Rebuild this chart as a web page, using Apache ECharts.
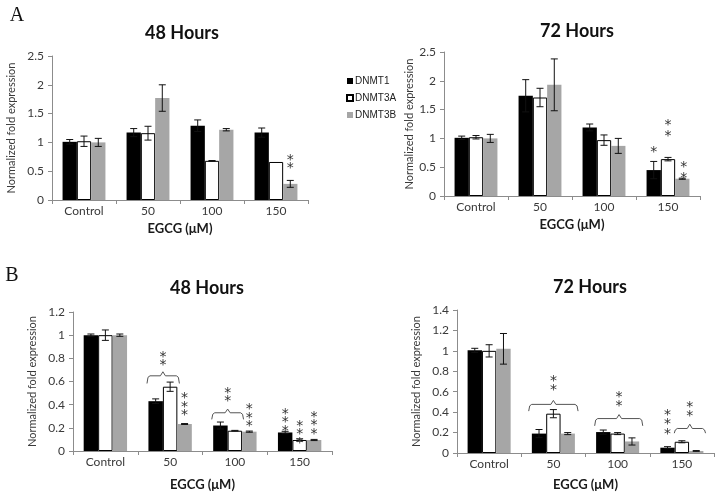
<!DOCTYPE html>
<html><head><meta charset="utf-8">
<script src="https://cdn.jsdelivr.net/npm/echarts@6/dist/echarts.min.js"></script>
<style>html,body{margin:0;padding:0;background:#fff}#c{width:724px;height:492px}</style>
</head><body><div id="c"></div>
<script>
// ---------- data ----------
const categories = ['Control', '50', '100', '150'];
const seriesNames = ['DNMT1', 'DNMT3A', 'DNMT3B'];
const xAxisName = 'EGCG (μM)';
const yAxisName = 'Normalized fold expression';

// Panel A, 48 hours
const a48_dnmt1 = [1.01, 1.17, 1.29, 1.17];
const a48_dnmt1_err = [0.04, 0.07, 0.10, 0.08];
const a48_dnmt3a = [1.02, 1.16, 0.68, 0.66];
const a48_dnmt3a_err = [0.09, 0.12, 0.005, 0.0];
const a48_dnmt3b = [1.00, 1.77, 1.22, 0.28];
const a48_dnmt3b_err = [0.07, 0.23, 0.02, 0.06];
// Panel A, 72 hours
const a72_dnmt1 = [1.01, 1.74, 1.19, 0.45];
const a72_dnmt1_err = [0.03, 0.28, 0.06, 0.15];
const a72_dnmt3a = [1.02, 1.71, 0.97, 0.64];
const a72_dnmt3a_err = [0.03, 0.16, 0.09, 0.03];
const a72_dnmt3b = [1.00, 1.93, 0.87, 0.30];
const a72_dnmt3b_err = [0.07, 0.45, 0.13, 0.01];
// Panel B, 48 hours
const b48_dnmt1 = [1.00, 0.43, 0.22, 0.16];
const b48_dnmt1_err = [0.01, 0.02, 0.03, 0.01];
const b48_dnmt3a = [1.00, 0.555, 0.175, 0.095];
const b48_dnmt3a_err = [0.045, 0.04, 0.003, 0.01];
const b48_dnmt3b = [1.00, 0.233, 0.167, 0.095];
const b48_dnmt3b_err = [0.01, 0.004, 0.005, 0.005];
// Panel B, 72 hours
const b72_dnmt1 = [1.005, 0.19, 0.205, 0.052];
const b72_dnmt1_err = [0.02, 0.04, 0.02, 0.01];
const b72_dnmt3a = [1.00, 0.385, 0.19, 0.11];
const b72_dnmt3a_err = [0.06, 0.04, 0.01, 0.01];
const b72_dnmt3b = [1.02, 0.19, 0.113, 0.02];
const b72_dnmt3b_err = [0.15, 0.01, 0.035, 0.004];

// significance stars: [category index, offset in bar widths from group centre, value, count]
const a48Stars = [[3, 1, 0.67, 2]];
const a72Stars = [[3, -1, 0.81, 1], [3, 0, 1.19, 2], [3, 1.1, 0.45, 2]];
const b48Stars = [[1, -0.5, 0.80, 2], [1, 1, 0.405, 3], [2, -0.5, 0.489, 2], [2, 1, 0.31, 3],
                  [3, -1, 0.273, 3], [3, 0, 0.167, 3], [3, 1, 0.244, 3]];
const b72Stars = [[1, 0, 0.687, 2], [2, 0.1, 0.531, 2], [3, -1, 0.305, 3], [3, 0.55, 0.433, 2]];
// brackets: [category, left offset, right offset, peak offset, top value, leg value, peak value]
const b48Brackets = [[1, -1.6, 0.64, -0.5, 0.649, 0.583, 0.684], [2, -1.6, 0.6, -0.5, 0.33, 0.273, 0.362]];
const b72Brackets = [[1, -1.72, 1.72, 0, 0.476, 0.41, 0.515], [2, -1.6, 1.75, 0.1, 0.337, 0.266, 0.376],
                     [3, -0.53, 1.65, 0.55, 0.24, 0.194, 0.282]];

// ---------- layout ----------
const colors = ['#000000', '#ffffff', '#a6a6a6'];
const FONT = 'Lato, "Open Sans", sans-serif';
const panels = [
  { grid: { left: 52, top: 56, width: 256, height: 144 }, max: 2.5, interval: 0.5,
    vals: [a48_dnmt1, a48_dnmt3a, a48_dnmt3b], errs: [a48_dnmt1_err, a48_dnmt3a_err, a48_dnmt3b_err],
    stars: a48Stars, brackets: [], starLH: 8, xNameGap: 22, yNameGap: 35, title: '48 Hours', tx: 182, ty: 33 },
  { grid: { left: 444, top: 52, width: 256, height: 144 }, max: 2.5, interval: 0.5,
    vals: [a72_dnmt1, a72_dnmt3a, a72_dnmt3b], errs: [a72_dnmt1_err, a72_dnmt3a_err, a72_dnmt3b_err],
    stars: a72Stars, brackets: [], starLH: 11, xNameGap: 22, yNameGap: 27, title: '72 Hours', tx: 577, ty: 31 },
  { grid: { left: 73, top: 312, width: 259, height: 139 }, max: 1.2, interval: 0.2,
    vals: [b48_dnmt1, b48_dnmt3a, b48_dnmt3b], errs: [b48_dnmt1_err, b48_dnmt3a_err, b48_dnmt3b_err],
    stars: b48Stars, brackets: b48Brackets, starLH: 8.5, xNameGap: 27, yNameGap: 35, title: '48 Hours', tx: 207, ty: 288 },
  { grid: { left: 457, top: 310, width: 257, height: 144 }, max: 1.4, interval: 0.2,
    vals: [b72_dnmt1, b72_dnmt3a, b72_dnmt3b], errs: [b72_dnmt1_err, b72_dnmt3a_err, b72_dnmt3b_err],
    stars: b72Stars, brackets: b72Brackets, starLH: 9.5, xNameGap: 25, yNameGap: 35, title: '72 Hours', tx: 590, ty: 287 }
];

const GROUP = 0.67; // fraction of the band used by the bar group (barCategoryGap 33%)
function barW(api) { return api.size([1, 0])[0] * GROUP / 3; }

function errRender(params, api) {
  const cat = api.value(0), bi = api.value(1), v = api.value(2), e = api.value(3);
  const bw = barW(api);
  const cx = api.coord([cat, 0])[0] + (bi - 1) * bw;
  const y1 = api.coord([cat, v + e])[1], y2 = api.coord([cat, v - e])[1];
  const cap = 3.5, st = { stroke: '#111', lineWidth: 1 };
  if (e <= 0) return { type: 'group', children: [] };
  return { type: 'group', children: [
    { type: 'line', shape: { x1: cx, y1: y1, x2: cx, y2: y2 }, style: st },
    { type: 'line', shape: { x1: cx - cap, y1: y1, x2: cx + cap, y2: y1 }, style: st },
    { type: 'line', shape: { x1: cx - cap, y1: y2, x2: cx + cap, y2: y2 }, style: st }
  ]};
}
function starRenderFactory(lh) {
  return function (params, api) {
    const cat = api.value(0), off = api.value(1), v = api.value(2), n = api.value(3);
    const bw = barW(api);
    const cx = api.coord([cat, 0])[0] + off * bw;
    const cy = api.coord([cat, v])[1];
    const txt = Array(n).fill('*').join('\n');
    return { type: 'text', x: cx, y: cy + 3, style: { text: txt, fill: '#333', font: '14px "DejaVu Sans"',
      align: 'center', verticalAlign: 'middle', textAlign: 'center', textVerticalAlign: 'middle', lineHeight: lh } };
  };
}
function bracketRender(params, api) {
  const cat = api.value(0), l = api.value(1), r = api.value(2), p = api.value(3);
  const top = api.value(4), leg = api.value(5), peak = api.value(6);
  const bw = barW(api);
  const c0 = api.coord([cat, 0])[0];
  const xl = c0 + l * bw, xr = c0 + r * bw, xp = c0 + p * bw;
  const yt = api.coord([cat, top])[1], yl = api.coord([cat, leg])[1], yp = api.coord([cat, peak])[1];
  return { type: 'polyline', shape: { points: [[xl, yl], [xl + 1, yt + 1.5], [xl + 3, yt], [xp - 2.5, yt], [xp, yp],
      [xp + 2.5, yt], [xr - 3, yt], [xr - 1, yt + 1.5], [xr, yl]] },
    style: { stroke: '#555', lineWidth: 1, fill: null } };
}

const grids = [], xAxes = [], yAxes = [], series = [], graphics = [];
const axisColor = '#8c8c8c', labelColor = '#3a3a3a';
panels.forEach((p, i) => {
  grids.push(p.grid);
  xAxes.push({ type: 'category', gridIndex: i, data: categories, boundaryGap: true,
    name: xAxisName, nameLocation: 'middle', nameGap: p.xNameGap,
    nameTextStyle: { fontFamily: FONT, fontWeight: 'bold', fontSize: 13, color: '#1a1a1a' },
    axisLine: { show: true, lineStyle: { color: axisColor, width: 1 } },
    axisTick: { show: true, length: 4, lineStyle: { color: axisColor } },
    axisLabel: { fontFamily: FONT, fontSize: 12, color: labelColor, margin: 5 } });
  yAxes.push({ type: 'value', gridIndex: i, min: 0, max: p.max, interval: p.interval,
    name: yAxisName, nameLocation: 'middle', nameGap: p.yNameGap, nameRotate: 90,
    nameTextStyle: { fontFamily: FONT, fontSize: 11, color: labelColor },
    axisLine: { show: true, lineStyle: { color: axisColor, width: 1 } },
    axisTick: { show: true, length: 4, lineStyle: { color: axisColor } },
    splitLine: { show: false },
    axisLabel: { fontFamily: FONT, fontSize: 12, color: labelColor, margin: 8 } });
  seriesNames.forEach((nm, s) => {
    series.push({ type: 'bar', name: nm, xAxisIndex: i, yAxisIndex: i, data: p.vals[s],
      barGap: '0%', barCategoryGap: '33%', animation: false,
      itemStyle: { color: colors[s], borderColor: s === 1 ? '#000' : colors[s], borderWidth: s === 1 ? 1 : 0 } });
  });
  const errData = [];
  p.vals.forEach((arr, s) => arr.forEach((v, c) => errData.push([c, s, v, p.errs[s][c]])));
  series.push({ type: 'custom', xAxisIndex: i, yAxisIndex: i, renderItem: errRender, data: errData,
    encode: { x: 0, y: 2 }, z: 5, animation: false, silent: true });
  series.push({ type: 'custom', xAxisIndex: i, yAxisIndex: i, renderItem: starRenderFactory(p.starLH), data: p.stars,
    encode: { x: 0, y: 2 }, z: 6, animation: false, silent: true });
  if (p.brackets.length) series.push({ type: 'custom', xAxisIndex: i, yAxisIndex: i, renderItem: bracketRender,
    data: p.brackets, encode: { x: 0, y: 4 }, z: 6, animation: false, silent: true });
  graphics.push({ type: 'text', x: p.tx, y: p.ty, style: { text: p.title, font: 'bold 18px ' + FONT, fill: '#111',
    align: 'center', verticalAlign: 'middle', textAlign: 'center', textVerticalAlign: 'middle' } });
});
graphics.push({ type: 'text', x: 17, y: 16, style: { text: 'A', font: '20px "Liberation Serif", serif', fill: '#111',
  align: 'center', verticalAlign: 'middle', textAlign: 'center', textVerticalAlign: 'middle' } });
graphics.push({ type: 'text', x: 12, y: 276, style: { text: 'B', font: '20px "Liberation Serif", serif', fill: '#111',
  align: 'center', verticalAlign: 'middle', textAlign: 'center', textVerticalAlign: 'middle' } });

const chart = echarts.init(document.getElementById('c'), null, { renderer: 'canvas' });
chart.setOption({
  animation: false,
  backgroundColor: '#fff',
  grid: grids, xAxis: xAxes, yAxis: yAxes, series: series, graphic: graphics,
  legend: { data: seriesNames, orient: 'vertical', left: 341, top: 71, itemWidth: 6, itemHeight: 6, itemGap: 7,
    icon: 'rect', textStyle: { fontFamily: '"Liberation Sans", Arial, sans-serif', fontSize: 10, color: '#222', padding: [0, 0, 0, -3] } }
});
</script></body></html>
